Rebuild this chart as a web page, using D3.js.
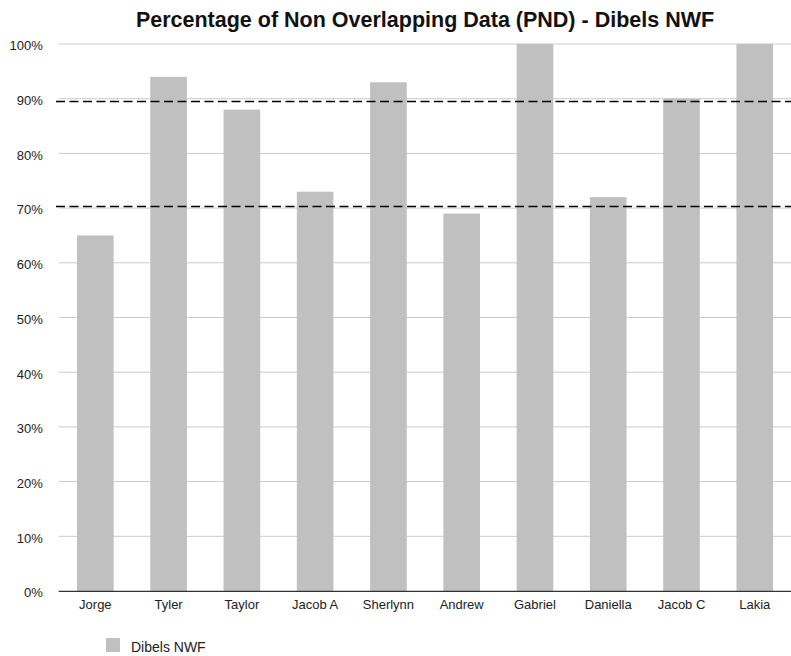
<!DOCTYPE html>
<html><head><meta charset="utf-8">
<script src="https://cdn.jsdelivr.net/npm/d3@7"></script>
<style>
html,body{margin:0;padding:0;background:#fff;}
svg{display:block;font-family:"Liberation Sans",Arial,Helvetica,sans-serif;}
</style></head>
<body>
<svg id="chart" width="791" height="656"></svg>
<script>
const categories = ["Jorge","Tyler","Taylor","Jacob A","Sherlynn","Andrew","Gabriel","Daniella","Jacob C","Lakia"];
const values = [65, 94, 88, 73, 93, 69, 100, 72, 90, 100];
const yTicks = [0,10,20,30,40,50,60,70,80,90,100];
const thresholds = [89.5, 70.3];
const seriesName = "Dibels NWF";
const title = "Percentage of Non Overlapping Data (PND) - Dibels NWF";

const svg = d3.select("#chart");
const mLeft = 58.7, mRight = 791.4, mTop = 44, mBottom = 591;

const x = d3.scaleBand().domain(categories).range([mLeft, mRight]).paddingInner(0.5).paddingOuter(0.25);
const y = d3.scaleLinear().domain([0,100]).range([mBottom, mTop]);

// gridlines
svg.append("g").selectAll("line").data(yTicks.filter(d=>d>0)).join("line")
  .attr("x1", mLeft).attr("x2", mRight)
  .attr("y1", d=>y(d)).attr("y2", d=>y(d))
  .attr("stroke", "#cbcbcb").attr("stroke-width", 1);

// y labels
const yAxis = d3.axisLeft(y).tickValues(yTicks).tickFormat(d=>d+"%").tickSize(0).tickPadding(0);
const ya = svg.append("g").attr("transform", `translate(${mLeft-16},0)`).call(yAxis);
ya.select(".domain").remove();
ya.selectAll("text").attr("font-size", 13).attr("fill", "#222")
  .attr("font-family", '"Liberation Sans",Arial,sans-serif').attr("dy", "0.45em");

// bars
svg.append("g").selectAll("rect").data(values).join("rect")
  .attr("x", (d,i)=>x(categories[i]))
  .attr("width", x.bandwidth())
  .attr("y", d=>y(d))
  .attr("height", d=>mBottom - y(d))
  .attr("fill", "#c0c0c0");

// x axis
const xAxis = d3.axisBottom(x).tickSize(0).tickPadding(0);
const xa = svg.append("g").attr("transform", `translate(0,${mBottom})`).call(xAxis);
xa.select(".domain").remove();
xa.selectAll("text").attr("font-size", 13).attr("fill", "#222")
  .attr("font-family", '"Liberation Sans",Arial,sans-serif').attr("y", 18).attr("dy", 0);
svg.append("line").attr("x1", mLeft).attr("x2", mRight).attr("y1", mBottom+0.3).attr("y2", mBottom+0.3)
  .attr("stroke", "#333").attr("stroke-width", 1.2);

// threshold dashed lines
svg.append("g").selectAll("line").data(thresholds).join("line")
  .attr("x1", 56).attr("x2", mRight)
  .attr("y1", d=>y(d)).attr("y2", d=>y(d))
  .attr("stroke", "#000").attr("stroke-width", 1.6).attr("stroke-dasharray", "9,4.5");

// title
svg.append("text").attr("x", 425).attr("y", 26.5).attr("text-anchor", "middle")
  .attr("font-size", 21.5).attr("font-weight", "bold").attr("fill", "#111").text(title);

// legend
svg.append("rect").attr("x", 106).attr("y", 638).attr("width", 14).attr("height", 14).attr("fill", "#c0c0c0");
svg.append("text").attr("x", 131).attr("y", 652).attr("font-size", 14).attr("fill", "#222").text(seriesName);
</script>
</body></html>
